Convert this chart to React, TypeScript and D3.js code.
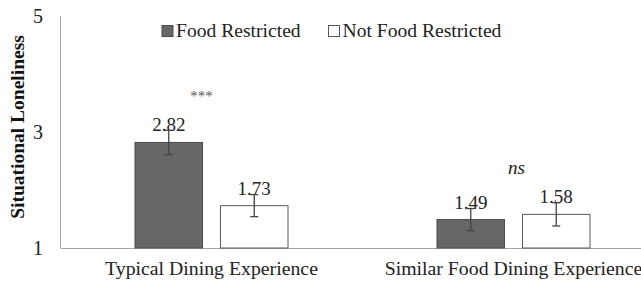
import React from "react";
import * as d3 from "d3";

const categories = ["Typical Dining Experience", "Similar Food Dining Experience"];
const seriesNames = ["Food Restricted", "Not Food Restricted"];
const foodRestricted = [2.82, 1.49];
const notFoodRestricted = [1.73, 1.58];
const foodRestrictedErr = [0.21, 0.19];
const notFoodRestrictedErr = [0.19, 0.2];
const significance = ["***", "ns"];
const yTicks = [1, 3, 5];

const W = 641;
const H = 283;
const FONT = "Liberation Serif, Tinos, Times New Roman, Times, serif";
const fills = ["#676767", "#ffffff"];
const strokes = ["#4a4a4a", "#5a5a5a"];

const App = () => {
  const y = d3.scaleLinear().domain([1, 5]).range([248, 16]);
  const x0 = d3.scaleBand().domain(categories).range([60.5, 664.5]).padding(0);
  const x1 = d3.scaleBand().domain(seriesNames).range([-76.5, 76.5]).paddingInner(0.21);

  const values = [foodRestricted, notFoodRestricted];
  const errs = [foodRestrictedErr, notFoodRestrictedErr];

  const bars = categories.flatMap((c, ci) =>
    seriesNames.map((s, si) => ({
      cat: c,
      series: s,
      si,
      value: values[si][ci],
      err: errs[si][ci],
      x: (x0(c) as number) + x0.bandwidth() / 2 + (x1(s) as number),
    }))
  );

  return (
    <svg width={W} height={H} style={{ position: "absolute", left: 0, top: 0, background: "#fff", fontFamily: FONT }}>
      {/* axes */}
      <line x1={60.5} x2={60.5} y1={y(5)} y2={y(1)} stroke="#a6a6a6" strokeWidth={1} />
      <line x1={60.5} x2={W} y1={y(1) + 0.5} y2={y(1) + 0.5} stroke="#a6a6a6" strokeWidth={1} />
      {yTicks.map((t) => (
        <text key={t} x={43} y={y(t)} dy="0.35em" textAnchor="end" fontSize={20} fill="#222" style={{ fontFamily: FONT }}>
          {t}
        </text>
      ))}
      <text
        transform={`translate(24, ${(y(5) + y(1)) / 2 - 5}) rotate(-90)`}
        textAnchor="middle"
        fontSize={19.5}
        fontWeight="bold"
        fill="#111"
        style={{ fontFamily: FONT }}
      >
        Situational Loneliness
      </text>

      {/* bars */}
      {bars.map((b, i) => (
        <g key={i}>
          <rect
            x={b.x}
            y={y(b.value)}
            width={x1.bandwidth()}
            height={y(1) - y(b.value)}
            fill={fills[b.si]}
            stroke={strokes[b.si]}
            strokeWidth={1}
          />
          <text
            x={b.x + x1.bandwidth() / 2}
            y={y(b.value) - 11}
            textAnchor="middle"
            fontSize={19}
            fill="#222"
            style={{ fontFamily: FONT }}
          >
            {b.value.toFixed(2)}
          </text>
          <g stroke="#444" strokeWidth={1.3}>
            <line
              x1={b.x + x1.bandwidth() / 2}
              x2={b.x + x1.bandwidth() / 2}
              y1={y(b.value + b.err)}
              y2={y(b.value - b.err)}
            />
            <line
              x1={b.x + x1.bandwidth() / 2 - 4}
              x2={b.x + x1.bandwidth() / 2 + 4}
              y1={y(b.value + b.err)}
              y2={y(b.value + b.err)}
            />
            <line
              x1={b.x + x1.bandwidth() / 2 - 4}
              x2={b.x + x1.bandwidth() / 2 + 4}
              y1={y(b.value - b.err)}
              y2={y(b.value - b.err)}
            />
          </g>
        </g>
      ))}

      {/* significance */}
      {categories.map((c, ci) => {
        const top = d3.max(values.map((v, si) => v[ci] + errs[si][ci])) as number;
        const cx = (x0(c) as number) + x0.bandwidth() / 2;
        return (
          <text
            key={c}
            x={cx + (ci === 0 ? -10 : 3)}
            y={y(top) - 35}
            dy="0.35em"
            textAnchor="middle"
            fontSize={ci === 0 ? 15 : 19}
            fontStyle={ci === 0 ? "normal" : "italic"}
            fill={ci === 0 ? "#555" : "#222"}
            style={{ fontFamily: FONT }}
          >
            {significance[ci]}
          </text>
        );
      })}

      {/* category labels */}
      {categories.map((c) => (
        <text
          key={c}
          x={(x0(c) as number) + x0.bandwidth() / 2}
          y={275}
          textAnchor="middle"
          fontSize={19.8}
          fill="#222"
          style={{ fontFamily: FONT }}
        >
          {c}
        </text>
      ))}

      {/* legend */}
      {seriesNames.map((s, si) => {
        const lx = si === 0 ? 162 : 328.5;
        return (
          <g key={s}>
            <rect x={lx} y={25.5} width={11} height={11} fill={fills[si]} stroke={strokes[si]} strokeWidth={1} />
            <text x={lx + 14} y={37} fontSize={19.6} fill="#222" style={{ fontFamily: FONT }}>
              {s}
            </text>
          </g>
        );
      })}
    </svg>
  );
};

export default App;
